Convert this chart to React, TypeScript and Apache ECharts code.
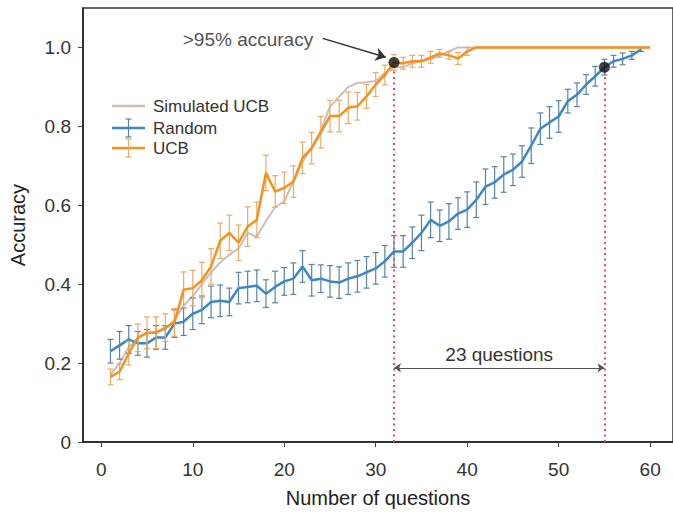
import React, { useEffect, useRef } from "react";
import * as echarts from "echarts";

const FONT = "'Liberation Sans', Arial, Helvetica, sans-serif";

const xTicks = [0, 10, 20, 30, 40, 50, 60];
const yTicks = [0, 0.2, 0.4, 0.6, 0.8, 1.0];

// question index = position in array + 1
const randomMean = [
  0.23, 0.245, 0.26, 0.25, 0.25, 0.265, 0.265, 0.3, 0.305, 0.325,
  0.335, 0.355, 0.358, 0.355, 0.39, 0.393, 0.396, 0.376, 0.393, 0.407,
  0.414, 0.445, 0.41, 0.414, 0.407, 0.404, 0.414, 0.42, 0.43, 0.44,
  0.458, 0.483, 0.483, 0.505, 0.53, 0.563, 0.548, 0.559, 0.579, 0.589,
  0.614, 0.647, 0.658, 0.678, 0.69, 0.711, 0.751, 0.794, 0.81, 0.825,
  0.864, 0.88, 0.906, 0.927, 0.95, 0.965, 0.971, 0.98, 0.995,
];
const randomErr = [
  0.03, 0.035, 0.035, 0.03, 0.035, 0.03, 0.03, 0.035, 0.035, 0.04,
  0.035, 0.04, 0.04, 0.035, 0.04, 0.04, 0.04, 0.035, 0.04, 0.035,
  0.04, 0.04, 0.04, 0.035, 0.04, 0.04, 0.04, 0.04, 0.04, 0.04,
  0.04, 0.04, 0.04, 0.04, 0.045, 0.045, 0.04, 0.045, 0.04, 0.045,
  0.045, 0.045, 0.04, 0.045, 0.04, 0.04, 0.045, 0.04, 0.04, 0.04,
  0.03, 0.03, 0.025, 0.025, 0.02, 0.015, 0.015, 0.01, 0.005,
];
const ucbMean = [
  0.165, 0.178, 0.225, 0.264, 0.277, 0.277, 0.29, 0.303, 0.386, 0.39,
  0.41, 0.445, 0.51, 0.53, 0.505, 0.546, 0.563, 0.682, 0.635, 0.644,
  0.66, 0.72, 0.745, 0.785, 0.826, 0.826, 0.847, 0.851, 0.876, 0.906,
  0.93, 0.962, 0.96, 0.965, 0.965, 0.975, 0.985, 0.98, 0.972, 0.99,
  1, 1, 1, 1, 1, 1, 1, 1, 1, 1,
  1, 1, 1, 1, 1, 1, 1, 1, 1, 1,
];
const ucbErr = [
  0.02, 0.02, 0.03, 0.035, 0.04, 0.04, 0.035, 0.035, 0.045, 0.045,
  0.045, 0.045, 0.045, 0.045, 0.045, 0.05, 0.045, 0.045, 0.04, 0.04,
  0.04, 0.04, 0.04, 0.04, 0.04, 0.04, 0.04, 0.035, 0.03, 0.03,
  0.025, 0.02, 0.015, 0.015, 0.015, 0.015, 0.01, 0.01, 0.015, 0.01,
  0, 0, 0, 0, 0, 0, 0, 0, 0, 0,
  0, 0, 0, 0, 0, 0, 0, 0, 0, 0,
];
const simUcbMean = [
  0.17, 0.2, 0.24, 0.265, 0.275, 0.28, 0.285, 0.31, 0.345, 0.37,
  0.4, 0.43, 0.455, 0.475, 0.49, 0.53, 0.52, 0.56, 0.595, 0.61,
  0.66, 0.71, 0.745, 0.79, 0.85, 0.875, 0.9, 0.91, 0.912, 0.915,
  0.935, 0.95, 0.95, 0.96, 0.965, 0.97, 0.98, 0.99, 1, 1,
  1, 1, 1, 1, 1, 1, 1, 1, 1, 1,
  1, 1, 1, 1, 1, 1, 1, 1, 1, 1,
];

const ucbReach = 32; // questions for UCB to pass 95%
const randomReach = 55; // questions for Random to pass 95%
const gapLevel = 0.188;
const annotationAnchor = [23.6, 1.02];
const annotationFrom = [24.2, 1.023];
const annotationTo = [31.1, 0.975];

const toPts = (arr: number[]) => arr.map((v, i) => [i + 1, v]);
const errPts = (m: number[], e: number[]) =>
  m.map((v, i) => [i + 1, v - e[i], v + e[i]]).filter((_, i) => e[i] > 0);

const makeErr = (color: string) => (params: any, api: any) => {
  const x = api.value(0);
  const lo = api.coord([x, api.value(1)]);
  const hi = api.coord([x, api.value(2)]);
  const w = 3;
  const style = { stroke: color, lineWidth: 1.2 };
  return {
    type: "group",
    children: [
      { type: "line", shape: { x1: lo[0], y1: lo[1], x2: hi[0], y2: hi[1] }, style },
      { type: "line", shape: { x1: lo[0] - w, y1: lo[1], x2: lo[0] + w, y2: lo[1] }, style },
      { type: "line", shape: { x1: hi[0] - w, y1: hi[1], x2: hi[0] + w, y2: hi[1] }, style },
    ],
  };
};

const GRAY = "#cbbfb7";
const BLUE = "#3c87c4";
const BLUE_ERR = "#5a83a3";
const ORANGE = "#f3921c";
const ORANGE_ERR = "#e8ab6a";

function legendItem(y: number, color: string, errColor: string | null, label: string) {
  const children: any[] = [
    { type: "line", shape: { x1: 112, y1: y, x2: 145, y2: y }, style: { stroke: color, lineWidth: 2.5 } },
  ];
  if (errColor) {
    const s = { stroke: errColor, lineWidth: 1.2 };
    children.push(
      { type: "line", shape: { x1: 128.5, y1: y - 9, x2: 128.5, y2: y + 9 }, style: s },
      { type: "line", shape: { x1: 125.5, y1: y - 9, x2: 131.5, y2: y - 9 }, style: s },
      { type: "line", shape: { x1: 125.5, y1: y + 9, x2: 131.5, y2: y + 9 }, style: s }
    );
  }
  children.push({
    type: "text",
    x: 153,
    y,
    style: { text: label, fill: "#333", fontSize: 17, fontFamily: FONT, verticalAlign: "middle", align: "left" },
  });
  return { type: "group", children, z: 100 };
}

export default function App() {
  const ref = useRef<HTMLDivElement>(null);
  useEffect(() => {
    if (!ref.current) return;
    const chart = echarts.init(ref.current, undefined, { renderer: "svg" });
    const option: any = {
      animation: false,
      backgroundColor: "#fff",
      grid: { left: 81, right: 0, top: 8, bottom: 70, show: true, borderColor: "#333", borderWidth: 1.5 },
      xAxis: {
        type: "value",
        min: -2,
        max: 62.5,
        name: "Number of questions",
        nameLocation: "middle",
        nameGap: 46,
        nameTextStyle: { fontSize: 20, color: "#222", fontFamily: FONT },
        axisLine: { show: true, onZero: false, lineStyle: { color: "#222", width: 1.5 } },
        axisTick: { show: true, inside: false, length: 5, customValues: xTicks, lineStyle: { color: "#444" } },
        axisLabel: { customValues: xTicks, fontSize: 19, color: "#333", margin: 18, fontFamily: FONT },
        splitLine: { show: false },
      },
      yAxis: {
        type: "value",
        min: 0,
        max: 1.1,
        name: "Accuracy",
        nameLocation: "middle",
        nameGap: 55,
        nameTextStyle: { fontSize: 20, color: "#222", fontFamily: FONT },
        axisLine: { show: true, onZero: false, lineStyle: { color: "#222", width: 1.5 } },
        axisTick: { show: true, inside: false, length: 5, customValues: yTicks, lineStyle: { color: "#444" } },
        axisLabel: {
          customValues: yTicks,
          fontSize: 19,
          color: "#333",
          margin: 12,
          fontFamily: FONT,
          formatter: (v: number) => (v === 0 ? "0" : v.toFixed(1)),
        },
        splitLine: { show: false },
      },
      series: [
        {
          name: "Simulated UCB",
          type: "line",
          data: toPts(simUcbMean),
          symbol: "none",
          lineStyle: { color: GRAY, width: 2 },
          z: 2,
        },
        {
          name: "Random error",
          type: "custom",
          data: errPts(randomMean, randomErr),
          renderItem: makeErr(BLUE_ERR),
          encode: { x: 0, y: [1, 2] },
          z: 3,
        },
        {
          name: "Random",
          type: "line",
          data: toPts(randomMean),
          symbol: "none",
          lineStyle: { color: BLUE, width: 2.5 },
          z: 4,
          markLine: {
            silent: true,
            symbol: "none",
            label: { show: false },
            lineStyle: { color: "#e0506a", type: [2, 3.5], width: 2 },
            data: [
              [{ coord: [ucbReach, 0] }, { coord: [ucbReach, ucbMean[ucbReach - 1]] }],
              [{ coord: [randomReach, 0] }, { coord: [randomReach, randomMean[randomReach - 1]] }],
            ],
          },
        },
        {
          name: "UCB error",
          type: "custom",
          data: errPts(ucbMean, ucbErr),
          renderItem: makeErr(ORANGE_ERR),
          encode: { x: 0, y: [1, 2] },
          z: 5,
        },
        {
          name: "UCB",
          type: "line",
          data: toPts(ucbMean),
          symbol: "none",
          lineStyle: { color: ORANGE, width: 2.5 },
          z: 6,
          markLine: {
            silent: true,
            symbol: ["none", "arrow"],
            label: { show: false },
            data: [
              [
                { coord: annotationFrom, symbol: "none", lineStyle: { color: "#333", width: 1.5, type: "solid" } },
                { coord: annotationTo, symbol: "arrow", symbolSize: 10 },
              ],
              [
                {
                  coord: [ucbReach, gapLevel],
                  symbol: "arrow",
                  symbolSize: 7,
                  lineStyle: { color: "#555", width: 1, type: "solid" },
                  label: {
                    show: true,
                    position: "middle",
                    formatter: `${randomReach - ucbReach} questions`,
                    fontSize: 19,
                    color: "#333",
                    fontFamily: FONT,
                    distance: 4,
                  },
                },
                { coord: [randomReach, gapLevel], symbol: "arrow", symbolSize: 7 },
              ],
            ],
          },
        },
        {
          name: "Reach points",
          type: "scatter",
          data: [
            [ucbReach, ucbMean[ucbReach - 1]],
            [randomReach, randomMean[randomReach - 1]],
          ],
          symbolSize: 11,
          itemStyle: { color: "#111" },
          z: 10,
        },
        {
          name: "Annotation",
          type: "scatter",
          data: [annotationAnchor],
          symbolSize: 0,
          label: {
            show: true,
            position: "left",
            distance: 4,
            formatter: ">95% accuracy",
            fontSize: 19,
            color: "#222",
            fontFamily: FONT,
          },
          z: 10,
        },
      ],
      graphic: [
        legendItem(106, GRAY, null, "Simulated UCB"),
        legendItem(128, BLUE, BLUE_ERR, "Random"),
        legendItem(148, ORANGE, ORANGE_ERR, "UCB"),
      ],
    };
    chart.setOption(option);
    return () => chart.dispose();
  }, []);
  return (
    <div
      ref={ref}
      style={{ position: "fixed", left: 0, top: 0, width: 673, height: 513, background: "#fff" }}
    />
  );
}
